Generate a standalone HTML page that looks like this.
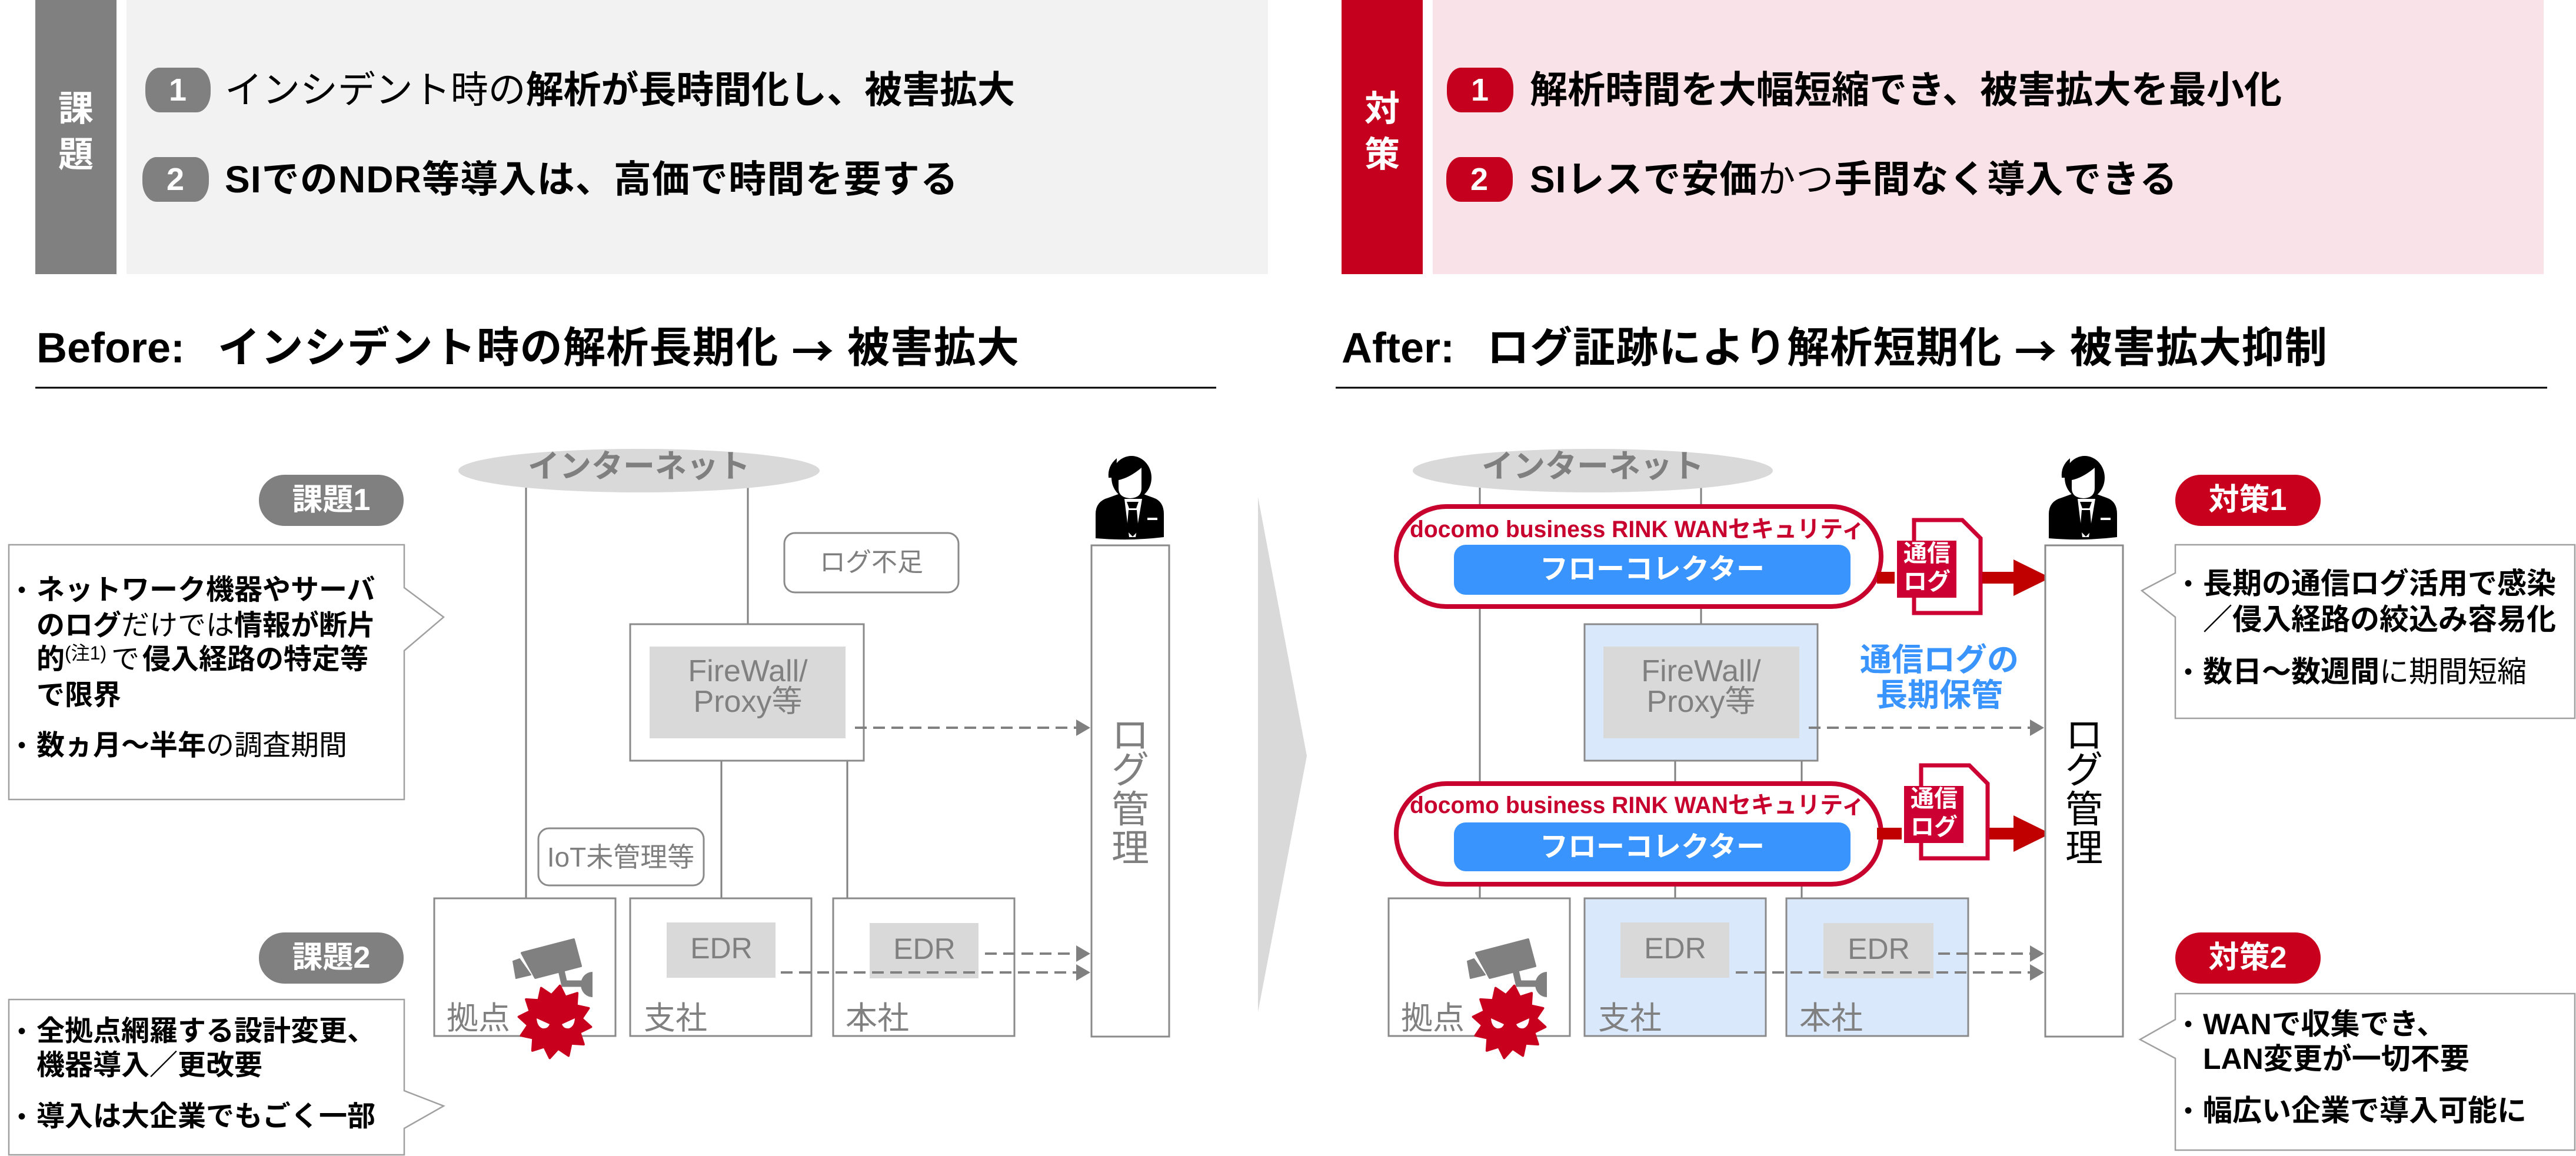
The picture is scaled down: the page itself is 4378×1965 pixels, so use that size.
<!DOCTYPE html>
<html><head><meta charset="utf-8">
<style>
html,body{margin:0;padding:0;background:#fff;width:4378px;height:1965px;overflow:hidden}
svg{display:block}
text{font-family:"Liberation Sans","Noto Sans CJK JP",sans-serif;dominant-baseline:central}
.ar{font-family:"Noto Sans CJK JP",sans-serif}
</style></head>
<body>
<svg width="4378" height="1965" viewBox="0 0 4378 1965" xmlns="http://www.w3.org/2000/svg">
<defs>
  <g id="cv">
    <polygon points="887,1620 975,1597 987,1642 910,1662" fill="#808080" stroke="#808080" stroke-width="4" stroke-linejoin="round"/>
    <polygon points="872,1634 883,1630 902,1657 877,1663" fill="#808080" stroke="#808080" stroke-width="2" stroke-linejoin="round"/>
    <path d="M954,1650 L959,1672 L992,1672" fill="none" stroke="#808080" stroke-width="11"/>
    <path d="M1007,1652 A20,21.5 0 0 0 1007,1695 Z" fill="#808080"/>
    <g transform="translate(943,1737) rotate(8)">
      <polygon fill="#c8001e" stroke="#c8001e" stroke-width="4" stroke-linejoin="round" points="62,0 44.4,11.9 53.7,31 32.5,32.5 31,53.7 11.9,44.4 0,62 -11.9,44.4 -31,53.7 -32.5,32.5 -53.7,31 -44.4,11.9 -62,0 -44.4,-11.9 -53.7,-31 -32.5,-32.5 -31,-53.7 -11.9,-44.4 0,-62 11.9,-44.4 31,-53.7 32.5,-32.5 53.7,-31 44.4,-11.9"/>
    </g>
    <path d="M912,1731 L934,1741 Q931,1749 922,1748 Q913,1745 912,1731 Z" fill="#fff"/>
    <path d="M977,1731 L955,1741 Q958,1749 967,1748 Q976,1745 977,1731 Z" fill="#fff"/>
  </g>
  <g id="person">
    <path d="M1862,915 L1862,874 Q1862,852 1884,846 L1906,838 L1938,838 L1960,846 Q1978,852 1978,874 L1978,913 Q1920,920 1862,915 Z" fill="#000"/>
    <rect x="1904" y="828" width="36" height="16" fill="#000"/>
    <ellipse cx="1923" cy="812" rx="34" ry="37" fill="#000"/>
    <path d="M1884,812 Q1882,792 1898,779 L1897,812 Z" fill="#000"/>
    <path d="M1901,816 Q1920,812 1940,795 L1940,830 Q1940,846 1921,847 Q1901,846 1901,830 Z" fill="#fff"/>
    <polygon points="1911,848 1941,848 1930,913 1919,913" fill="#fff"/>
    <polygon points="1915,853 1935,853 1931,864 1919,864" fill="#000"/>
    <polygon points="1918,867 1932,867 1935,902 1925,912 1915,902" fill="#000"/>
    <rect x="1950" y="880" width="17" height="4" fill="#fff"/>
  </g>
</defs>

<!-- ===== TOP PANELS ===== -->
<rect x="60" y="0" width="138" height="466" fill="#808080"/>
<rect x="215" y="0" width="1940" height="466" fill="#f2f2f2"/>
<rect x="2280" y="0" width="138" height="466" fill="#c5001e"/>
<rect x="2435" y="0" width="1888" height="466" fill="#f9e3e8"/>

<text x="129" y="185" font-size="60" font-weight="bold" fill="#fff" text-anchor="middle">課</text>
<text x="129" y="263" font-size="60" font-weight="bold" fill="#fff" text-anchor="middle">題</text>
<text x="2349" y="185" font-size="60" font-weight="bold" fill="#fff" text-anchor="middle">対</text>
<text x="2349" y="263" font-size="60" font-weight="bold" fill="#fff" text-anchor="middle">策</text>

<rect x="247" y="115" width="111" height="76" rx="24" ry="34" fill="#808080"/>
<text x="302" y="153" font-size="54" font-weight="bold" fill="#fff" text-anchor="middle">1</text>
<rect x="242" y="267" width="113" height="76" rx="24" ry="34" fill="#808080"/>
<text x="298" y="305" font-size="54" font-weight="bold" fill="#fff" text-anchor="middle">2</text>
<rect x="2459" y="115" width="113" height="76" rx="24" ry="34" fill="#c5001e"/>
<text x="2515" y="153" font-size="54" font-weight="bold" fill="#fff" text-anchor="middle">1</text>
<rect x="2458" y="267" width="113" height="76" rx="24" ry="34" fill="#c5001e"/>
<text x="2514" y="305" font-size="54" font-weight="bold" fill="#fff" text-anchor="middle">2</text>

<text x="382" y="153" font-size="64" fill="#000" textLength="1343" lengthAdjust="spacing"><tspan>インシデント時の</tspan><tspan font-weight="bold">解析が長時間化し、被害拡大</tspan></text>
<text x="382" y="305" font-size="64" font-weight="bold" fill="#000" textLength="1246" lengthAdjust="spacing">SIでのNDR等導入は、高価で時間を要する</text>
<text x="2600" y="153" font-size="64" font-weight="bold" fill="#000" textLength="1278" lengthAdjust="spacing">解析時間を大幅短縮でき、被害拡大を最小化</text>
<text x="2600" y="305" font-size="64" fill="#000" textLength="1100" lengthAdjust="spacing"><tspan font-weight="bold">SIレスで安価</tspan><tspan>かつ</tspan><tspan font-weight="bold">手間なく導入できる</tspan></text>

<!-- ===== TITLES ===== -->
<text x="62" y="592" font-size="72" font-weight="bold" fill="#000">Before:</text>
<text x="370" y="592" font-size="72" font-weight="bold" fill="#000" textLength="1362" lengthAdjust="spacing">インシデント時の解析長期化 <tspan class="ar">→</tspan> 被害拡大</text>
<line x1="60" y1="659" x2="2067" y2="659" stroke="#000" stroke-width="3"/>
<text x="2280" y="592" font-size="72" font-weight="bold" fill="#000">After:</text>
<text x="2527" y="592" font-size="72" font-weight="bold" fill="#000" textLength="1428" lengthAdjust="spacing">ログ証跡により解析短期化 <tspan class="ar">→</tspan> 被害拡大抑制</text>
<line x1="2270" y1="659" x2="4329" y2="659" stroke="#000" stroke-width="3"/>

<!-- ===== LEFT CALLOUTS ===== -->
<rect x="440" y="807" width="246" height="87" rx="43" fill="#808080"/>
<text x="563" y="850" font-size="52" font-weight="bold" fill="#fff" text-anchor="middle">課題1</text>
<path d="M15,926 H687 V999 L754,1049 L687,1106 V1359 H15 Z" fill="#fff" stroke="#a0a0a0" stroke-width="2.5"/>
<text x="30" y="1003" font-size="40" fill="#000">•</text>
<text x="62" y="1003" font-size="48" font-weight="bold" fill="#000">ネットワーク機器やサーバ</text>
<text x="62" y="1063" font-size="48" fill="#000"><tspan font-weight="bold">のログ</tspan><tspan>だけでは</tspan><tspan font-weight="bold">情報が断片</tspan></text>
<text x="62" y="1121" font-size="48" font-weight="bold" fill="#000">的</text>
<text x="110" y="1110" font-size="32" fill="#000">(注1)</text>
<text x="189" y="1121" font-size="48" fill="#000">で</text>
<text x="242" y="1121" font-size="48" font-weight="bold" fill="#000">侵入経路の特定等</text>
<text x="62" y="1182" font-size="48" font-weight="bold" fill="#000">で限界</text>
<text x="30" y="1267" font-size="40" fill="#000">•</text>
<text x="62" y="1267" font-size="48" fill="#000"><tspan font-weight="bold">数ヵ月～半年</tspan><tspan>の調査期間</tspan></text>

<rect x="440" y="1585" width="246" height="87" rx="43" fill="#808080"/>
<text x="563" y="1628" font-size="52" font-weight="bold" fill="#fff" text-anchor="middle">課題2</text>
<path d="M15,1699 H687 V1854 L754,1880 L687,1918 V1963 H15 Z" fill="#fff" stroke="#a0a0a0" stroke-width="2.5"/>
<text x="30" y="1753" font-size="40" fill="#000">•</text>
<text x="62" y="1753" font-size="48" font-weight="bold" fill="#000">全拠点網羅する設計変更、</text>
<text x="62" y="1811" font-size="48" font-weight="bold" fill="#000">機器導入／更改要</text>
<text x="30" y="1898" font-size="40" fill="#000">•</text>
<text x="62" y="1898" font-size="48" font-weight="bold" fill="#000">導入は大企業でもごく一部</text>

<!-- ===== LEFT DIAGRAM ===== -->
<g stroke="#808080" stroke-width="3">
  <line x1="894" y1="829" x2="894" y2="1527"/>
  <line x1="1271" y1="829" x2="1271" y2="1061"/>
  <line x1="1226" y1="1293" x2="1226" y2="1527"/>
  <line x1="1440" y1="1293" x2="1440" y2="1527"/>
</g>
<ellipse cx="1086" cy="800" rx="307" ry="37" fill="#d9d9d9"/>
<text x="1086" y="793" font-size="54" font-weight="bold" fill="#7f7f7f" text-anchor="middle">インターネット</text>

<rect x="1333" y="906" width="296" height="101" rx="18" fill="#fff" stroke="#8a8a8a" stroke-width="3"/>
<text x="1481" y="956" font-size="44" fill="#7f7f7f" text-anchor="middle">ログ不足</text>

<rect x="1071" y="1061" width="397" height="232" fill="#fff" stroke="#8a8a8a" stroke-width="3"/>
<rect x="1104" y="1099" width="333" height="156" fill="#d9d9d9"/>
<text x="1271" y="1141" font-size="52" fill="#808080" text-anchor="middle">FireWall/</text>
<text x="1271" y="1193" font-size="52" fill="#808080" text-anchor="middle">Proxy等</text>

<rect x="915" y="1408" width="281" height="97" rx="18" fill="#fff" stroke="#8a8a8a" stroke-width="3"/>
<text x="1055" y="1457" font-size="46" fill="#7f7f7f" text-anchor="middle">IoT未管理等</text>

<rect x="738" y="1527" width="308" height="234" fill="#fff" stroke="#8a8a8a" stroke-width="3"/>
<rect x="1071" y="1527" width="308" height="234" fill="#fff" stroke="#8a8a8a" stroke-width="3"/>
<rect x="1416" y="1527" width="308" height="234" fill="#fff" stroke="#8a8a8a" stroke-width="3"/>
<rect x="1133" y="1568" width="185" height="94" fill="#d9d9d9"/>
<rect x="1478" y="1569" width="185" height="94" fill="#d9d9d9"/>
<text x="1226" y="1612" font-size="50" fill="#808080" text-anchor="middle">EDR</text>
<text x="1571" y="1613" font-size="50" fill="#808080" text-anchor="middle">EDR</text>
<text x="759" y="1731" font-size="54" fill="#808080">拠点</text>
<text x="1094" y="1731" font-size="54" fill="#808080">支社</text>
<text x="1437" y="1731" font-size="54" fill="#808080">本社</text>

<g stroke="#808080" stroke-width="4" stroke-dasharray="20 11">
  <line x1="1453" y1="1237" x2="1829" y2="1237"/>
  <line x1="1674" y1="1621" x2="1829" y2="1621"/>
  <line x1="1327" y1="1653" x2="1829" y2="1653"/>
</g>
<g fill="#808080">
  <polygon points="1829,1223 1853,1237 1829,1251"/>
  <polygon points="1829,1607 1853,1621 1829,1635"/>
  <polygon points="1829,1639 1853,1653 1829,1667"/>
</g>

<use href="#cv"/>

<rect x="1855" y="927" width="132" height="835" fill="#fff" stroke="#8a8a8a" stroke-width="3"/>
<g font-size="64" fill="#7f7f7f" text-anchor="middle">
  <text x="1921" y="1250">ロ</text>
  <text x="1921" y="1309">グ</text>
  <text x="1921" y="1376">管</text>
  <text x="1921" y="1442">理</text>
</g>
<use href="#person"/>

<!-- ===== CHEVRON ===== -->
<polygon points="2138,845 2221,1285 2138,1720" fill="#d9d9d9"/>

<!-- ===== RIGHT DIAGRAM ===== -->
<g stroke="#808080" stroke-width="3">
  <line x1="2515" y1="829" x2="2515" y2="1527"/>
  <line x1="2891" y1="829" x2="2891" y2="1061"/>
  <line x1="2847" y1="1293" x2="2847" y2="1527"/>
  <line x1="3062" y1="1293" x2="3062" y2="1527"/>
</g>
<ellipse cx="2707" cy="800" rx="306" ry="37" fill="#d9d9d9"/>
<text x="2707" y="793" font-size="54" font-weight="bold" fill="#7f7f7f" text-anchor="middle">インターネット</text>

<rect x="2693" y="1061" width="396" height="232" fill="#dae8fc" stroke="#8a8a8a" stroke-width="3"/>
<rect x="2725" y="1099" width="333" height="156" fill="#d9d9d9"/>
<text x="2891" y="1141" font-size="52" fill="#808080" text-anchor="middle">FireWall/</text>
<text x="2891" y="1193" font-size="52" fill="#808080" text-anchor="middle">Proxy等</text>

<!-- pill 1 -->
<rect x="2373" y="861" width="824" height="170" rx="85" fill="#fff" stroke="#c8002d" stroke-width="8"/>
<text x="2396" y="900" font-size="40" font-weight="bold" fill="#c8002d" textLength="773" lengthAdjust="spacingAndGlyphs">docomo business RINK WANセキュリティ</text>
<rect x="2471" y="926" width="674" height="85" rx="20" fill="#3a94fd"/>
<text x="2808" y="968" font-size="48" font-weight="bold" fill="#fff" text-anchor="middle">フローコレクター</text>

<!-- pill 2 -->
<rect x="2373" y="1332" width="824" height="171" rx="85" fill="#fff" stroke="#c8002d" stroke-width="8"/>
<text x="2396" y="1369" font-size="40" font-weight="bold" fill="#c8002d" textLength="773" lengthAdjust="spacingAndGlyphs">docomo business RINK WANセキュリティ</text>
<rect x="2471" y="1398" width="674" height="83" rx="20" fill="#3a94fd"/>
<text x="2808" y="1440" font-size="48" font-weight="bold" fill="#fff" text-anchor="middle">フローコレクター</text>

<rect x="2360" y="1527" width="308" height="234" fill="#fff" stroke="#8a8a8a" stroke-width="3"/>
<rect x="2693" y="1527" width="308" height="234" fill="#dae8fc" stroke="#8a8a8a" stroke-width="3"/>
<rect x="3036" y="1527" width="309" height="234" fill="#dae8fc" stroke="#8a8a8a" stroke-width="3"/>
<rect x="2754" y="1568" width="185" height="94" fill="#d9d9d9"/>
<rect x="3099" y="1569" width="187" height="94" fill="#d9d9d9"/>
<text x="2847" y="1612" font-size="50" fill="#808080" text-anchor="middle">EDR</text>
<text x="3193" y="1613" font-size="50" fill="#808080" text-anchor="middle">EDR</text>
<text x="2381" y="1731" font-size="54" fill="#808080">拠点</text>
<text x="2716" y="1731" font-size="54" fill="#808080">支社</text>
<text x="3058" y="1731" font-size="54" fill="#808080">本社</text>

<g stroke="#808080" stroke-width="4" stroke-dasharray="20 11">
  <line x1="3074" y1="1237" x2="3450" y2="1237"/>
  <line x1="3294" y1="1621" x2="3450" y2="1621"/>
  <line x1="2950" y1="1653" x2="3450" y2="1653"/>
</g>
<g fill="#808080">
  <polygon points="3450,1223 3474,1237 3450,1251"/>
  <polygon points="3450,1607 3474,1621 3450,1635"/>
  <polygon points="3450,1639 3474,1653 3450,1667"/>
</g>

<use href="#cv" transform="translate(1622,0)"/>

<!-- doc 1 -->
<rect x="3190" y="972" width="30" height="20" fill="#c00000"/>
<path d="M3253,884 H3335 L3366,915 V1042 H3253 Z" fill="#fff" stroke="#cc0033" stroke-width="7"/>
<rect x="3224" y="919" width="101" height="97" fill="#cc0033"/>
<text x="3275" y="941" font-size="40" font-weight="bold" fill="#fff" text-anchor="middle">通信</text>
<text x="3275" y="989" font-size="40" font-weight="bold" fill="#fff" text-anchor="middle">ログ</text>
<rect x="3369" y="972" width="55" height="20" fill="#c00000"/>
<polygon points="3422,951 3485,982 3422,1013" fill="#c00000"/>

<!-- doc 2 -->
<rect x="3190" y="1407" width="42" height="20" fill="#c00000"/>
<g transform="translate(12,417)">
  <path d="M3253,884 H3335 L3366,915 V1042 H3253 Z" fill="#fff" stroke="#cc0033" stroke-width="7"/>
  <rect x="3224" y="919" width="101" height="97" fill="#cc0033"/>
  <text x="3275" y="941" font-size="40" font-weight="bold" fill="#fff" text-anchor="middle">通信</text>
  <text x="3275" y="989" font-size="40" font-weight="bold" fill="#fff" text-anchor="middle">ログ</text>
</g>
<rect x="3381" y="1407" width="43" height="20" fill="#c00000"/>
<polygon points="3422,1386 3485,1417 3422,1448" fill="#c00000"/>

<text x="3296" y="1122" font-size="54" font-weight="bold" fill="#3a94fd" text-anchor="middle">通信ログの</text>
<text x="3296" y="1182" font-size="54" font-weight="bold" fill="#3a94fd" text-anchor="middle">長期保管</text>

<rect x="3476" y="927" width="132" height="835" fill="#fff" stroke="#8a8a8a" stroke-width="3"/>
<g font-size="64" fill="#000" text-anchor="middle">
  <text x="3542" y="1250">ロ</text>
  <text x="3542" y="1309">グ</text>
  <text x="3542" y="1376">管</text>
  <text x="3542" y="1442">理</text>
</g>
<use href="#person" transform="translate(1620,0)"/>

<!-- ===== RIGHT CALLOUTS ===== -->
<rect x="3697" y="807" width="247" height="87" rx="43" fill="#c8001e"/>
<text x="3820" y="850" font-size="52" font-weight="bold" fill="#fff" text-anchor="middle">対策1</text>
<path d="M3697,926 H4376 V1221 H3697 V1049 L3640,1004 L3697,974 Z" fill="#fff" stroke="#a0a0a0" stroke-width="2.5"/>
<text x="3712" y="992" font-size="40" fill="#000">•</text>
<text x="3744" y="992" font-size="50" font-weight="bold" fill="#000">長期の通信ログ活用で感染</text>
<text x="3744" y="1053" font-size="50" font-weight="bold" fill="#000">／侵入経路の絞込み容易化</text>
<text x="3712" y="1142" font-size="40" fill="#000">•</text>
<text x="3744" y="1142" font-size="50" fill="#000"><tspan font-weight="bold">数日～数週間</tspan><tspan>に期間短縮</tspan></text>

<rect x="3697" y="1585" width="247" height="87" rx="43" fill="#c8001e"/>
<text x="3820" y="1628" font-size="52" font-weight="bold" fill="#fff" text-anchor="middle">対策2</text>
<path d="M3697,1689 H4376 V1955 H3697 V1799 L3637,1767 L3697,1733 Z" fill="#fff" stroke="#a0a0a0" stroke-width="2.5"/>
<text x="3712" y="1741" font-size="40" fill="#000">•</text>
<text x="3744" y="1741" font-size="50" font-weight="bold" fill="#000">WANで収集でき、</text>
<text x="3744" y="1800" font-size="50" font-weight="bold" fill="#000">LAN変更が一切不要</text>
<text x="3712" y="1888" font-size="40" fill="#000">•</text>
<text x="3744" y="1888" font-size="50" font-weight="bold" fill="#000">幅広い企業で導入可能に</text>
</svg>
</body></html>
